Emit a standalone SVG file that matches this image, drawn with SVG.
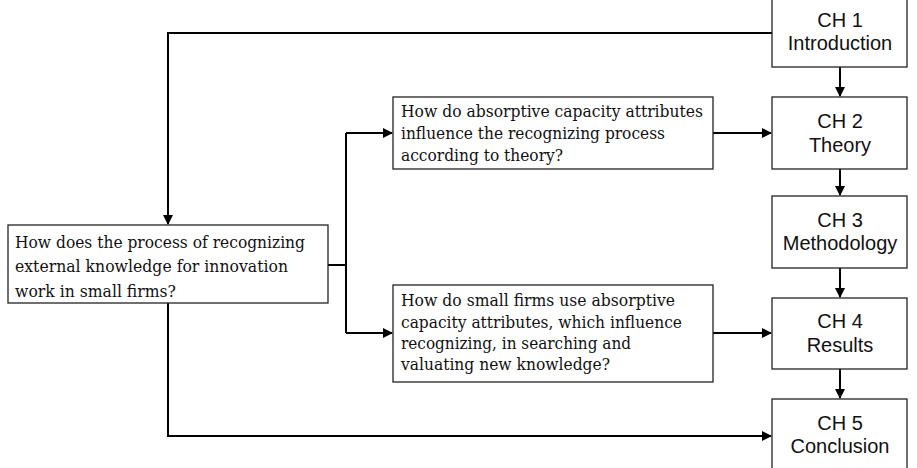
<svg xmlns="http://www.w3.org/2000/svg" width="917" height="468" viewBox="0 0 917 468">
<style>
.box{fill:#fff;stroke:#222;stroke-width:1.3}
.q{font-family:"DejaVu Serif","Liberation Serif",serif;font-size:16.5px;fill:#111}
.ch{font-family:"Liberation Sans",Arial,sans-serif;font-size:20px;fill:#111;text-anchor:middle}
.c{fill:none;stroke:#000;stroke-width:2}
</style>
<defs>
<marker id="ah" markerWidth="10" markerHeight="10" refX="9" refY="5" orient="auto" markerUnits="userSpaceOnUse">
<path d="M0,0 L10,5 L0,10 Z" fill="#000"/>
</marker>
</defs>
<rect width="917" height="468" fill="#fff"/>
<g id="connectors">
<path class="c" d="M772,33 H168 V224" marker-end="url(#ah)"/>
<path class="c" d="M168,303 V436 H771" marker-end="url(#ah)"/>
<path class="c" d="M328,265 H346"/>
<path class="c" d="M346,133 V333"/>
<path class="c" d="M346,133 H392" marker-end="url(#ah)"/>
<path class="c" d="M346,333 H392" marker-end="url(#ah)"/>
<path class="c" d="M713,133 H771" marker-end="url(#ah)"/>
<path class="c" d="M713,333 H771" marker-end="url(#ah)"/>
<path class="c" d="M840,67 V96" marker-end="url(#ah)"/>
<path class="c" d="M840,169 V195" marker-end="url(#ah)"/>
<path class="c" d="M840,268 V297" marker-end="url(#ah)"/>
<path class="c" d="M840,369 V398" marker-end="url(#ah)"/>
</g>
<g id="q0">
<rect class="box" x="8" y="225" width="320" height="78"/>
<text class="q" x="15" y="248" textLength="290" lengthAdjust="spacingAndGlyphs">How does the process of recognizing</text>
<text class="q" x="15" y="272" textLength="273" lengthAdjust="spacingAndGlyphs">external knowledge for innovation</text>
<text class="q" x="15" y="297" textLength="161" lengthAdjust="spacingAndGlyphs">work in small firms?</text>
</g>
<g id="q1">
<rect class="box" x="393" y="97" width="320" height="72"/>
<text class="q" x="401" y="117" textLength="302" lengthAdjust="spacingAndGlyphs">How do absorptive capacity attributes</text>
<text class="q" x="401" y="139" textLength="264" lengthAdjust="spacingAndGlyphs">influence the recognizing process</text>
<text class="q" x="401" y="161" textLength="162" lengthAdjust="spacingAndGlyphs">according to theory?</text>
</g>
<g id="q2">
<rect class="box" x="393" y="285" width="320" height="97"/>
<text class="q" x="401" y="306" textLength="274" lengthAdjust="spacingAndGlyphs">How do small firms use absorptive</text>
<text class="q" x="401" y="328" textLength="281" lengthAdjust="spacingAndGlyphs">capacity attributes, which influence</text>
<text class="q" x="401" y="349" textLength="230" lengthAdjust="spacingAndGlyphs">recognizing, in searching and</text>
<text class="q" x="401" y="370" textLength="209" lengthAdjust="spacingAndGlyphs">valuating new knowledge?</text>
</g>
<g id="ch1">
<rect class="box" x="772" y="-1" width="135" height="68"/>
<text class="ch" x="840" y="27">CH 1</text>
<text class="ch" x="840" y="50">Introduction</text>
</g>
<g id="ch2">
<rect class="box" x="772" y="97" width="135" height="72"/>
<text class="ch" x="840" y="128">CH 2</text>
<text class="ch" x="840" y="152">Theory</text>
</g>
<g id="ch3">
<rect class="box" x="772" y="196" width="135" height="72"/>
<text class="ch" x="840" y="227">CH 3</text>
<text class="ch" x="840" y="250">Methodology</text>
</g>
<g id="ch4">
<rect class="box" x="772" y="298" width="135" height="71"/>
<text class="ch" x="840" y="328">CH 4</text>
<text class="ch" x="840" y="352">Results</text>
</g>
<g id="ch5">
<rect class="box" x="772" y="399" width="135" height="75"/>
<text class="ch" x="840" y="430">CH 5</text>
<text class="ch" x="840" y="453">Conclusion</text>
</g>
</svg>
